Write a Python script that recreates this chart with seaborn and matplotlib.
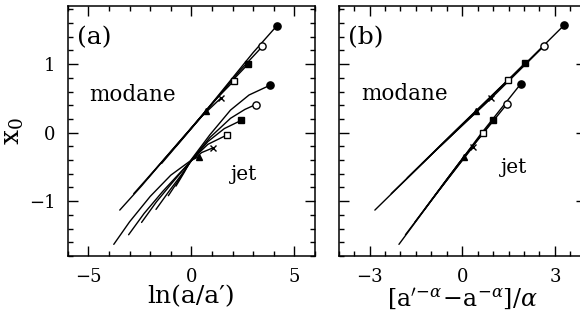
import numpy as np
import pandas as pd
import matplotlib
matplotlib.use("Agg")
import matplotlib.pyplot as plt
from matplotlib.ticker import MultipleLocator
import seaborn as sns

# --- data -----------------------------------------------------------

marks = ["tri", "cross", "osq", "fsq", "ocirc", "fcirc"]

# panel (a): x0 vs ln(a/a'), one curve per a', marker at the curve end
mod_a_x = [[-3.48, -2.4, -1.3, -0.2, 0.72],
           [-2.8, -1.8, -0.7, 0.4, 1.45],
           [-2.1, -1.0, 0.0, 1.1, 2.08],
           [-1.45, -0.4, 0.7, 1.8, 2.75],
           [-0.75, 0.3, 1.3, 2.4, 3.45],
           [-0.05, 1.0, 2.0, 3.0, 4.15]]
mod_a_y = [[-1.13, -0.77, -0.38, 0.00, 0.31],
           [-0.89, -0.55, -0.17, 0.21, 0.51],
           [-0.66, -0.28, 0.07, 0.46, 0.76],
           [-0.45, -0.08, 0.31, 0.70, 1.00],
           [-0.20, 0.17, 0.53, 0.92, 1.26],
           [0.05, 0.43, 0.80, 1.17, 1.56]]

jet_a_x = [[-3.77, -3.0, -2.0, -1.0, 0.0, 0.38],
           [-3.05, -2.3, -1.4, -0.6, 0.0, 0.5, 1.06],
           [-2.42, -1.7, -0.9, 0.0, 0.8, 1.75],
           [-1.72, -1.1, -0.5, 0.0, 0.8, 1.6, 2.42],
           [-1.12, -0.55, 0.0, 0.9, 1.9, 2.6, 3.12],
           [-0.75, -0.35, 0.0, 0.9, 1.9, 2.8, 3.8]]
jet_a_y = [[-1.63, -1.30, -0.93, -0.62, -0.40, -0.35],
           [-1.49, -1.18, -0.86, -0.60, -0.41, -0.29, -0.22],
           [-1.31, -1.01, -0.72, -0.40, -0.17, -0.03],
           [-1.12, -0.86, -0.62, -0.41, -0.13, 0.06, 0.18],
           [-0.92, -0.66, -0.40, -0.07, 0.21, 0.34, 0.41],
           [-0.78, -0.58, -0.39, -0.03, 0.33, 0.55, 0.69]]

# panel (b): x0 vs [a'^-alpha - a^-alpha]/alpha
mod_b_x = [[-2.83, -1.2, 0.44],
           [-2.30, -0.7, 0.94],
           [-1.78, -0.2, 1.48],
           [-1.30, 0.4, 2.02],
           [-0.72, 1.0, 2.66],
           [-0.15, 1.6, 3.3]]
mod_b_y = [[-1.13, -0.41, 0.31],
           [-0.89, -0.19, 0.51],
           [-0.66, 0.04, 0.77],
           [-0.45, 0.29, 1.01],
           [-0.20, 0.53, 1.27],
           [0.05, 0.81, 1.57]]

jet_b_x = [[-2.05, -1.0, 0.07],
           [-1.84, -0.75, 0.34],
           [-1.54, -0.45, 0.67],
           [-1.22, -0.1, 1.01],
           [-0.89, 0.3, 1.45],
           [-0.66, 0.6, 1.89]]
jet_b_y = [[-1.63, -0.99, -0.35],
           [-1.49, -0.84, -0.21],
           [-1.31, -0.65, 0.0],
           [-1.12, -0.44, 0.19],
           [-0.92, -0.22, 0.42],
           [-0.78, -0.02, 0.71]]

# marker style per curve: (marker, facecolor, size)
mstyle = {"tri": ("^", "black", 4.5), "cross": ("x", "black", 4.5),
          "osq": ("s", "white", 4.2), "fsq": ("s", "black", 4.2),
          "ocirc": ("o", "white", 5.2), "fcirc": ("o", "black", 5.2)}


def to_frame(xs, ys, name):
    rows = []
    for m, cx, cy in zip(marks, xs, ys):
        for x, y in zip(cx, cy):
            rows.append({"curve": f"{name}-{m}", "mark": m, "x": x, "y": y})
    return pd.DataFrame(rows)


# --- style ----------------------------------------------------------
sns.set_style("ticks")
plt.rcParams["font.family"] = ["DejaVu Serif"]
plt.rcParams["mathtext.fontset"] = "dejavuserif"
plt.rcParams["axes.linewidth"] = 1.1
for k in ["text.color", "axes.labelcolor", "xtick.color", "ytick.color",
          "axes.edgecolor"]:
    plt.rcParams[k] = "black"

fig = plt.figure(figsize=(5.8, 3.21), dpi=100)
ax_a = fig.add_axes([0.117, 0.2025, 0.426, 0.779])
ax_b = fig.add_axes([0.584, 0.2025, 0.426, 0.779])

panels = [(ax_a, to_frame(mod_a_x, mod_a_y, "mod"), to_frame(jet_a_x, jet_a_y, "jet")),
          (ax_b, to_frame(mod_b_x, mod_b_y, "mod"), to_frame(jet_b_x, jet_b_y, "jet"))]

for ax, dmod, djet in panels:
    df = pd.concat([dmod, djet], ignore_index=True)
    sns.lineplot(data=df, x="x", y="y", units="curve", estimator=None,
                 sort=False, color="black", lw=1.0, ax=ax, legend=False)
    # marker at the upper end of each curve
    ends = df.groupby("curve", sort=False).tail(1)
    for _, r in ends.iterrows():
        mk, fc, ms = mstyle[r["mark"]]
        ax.plot(r["x"], r["y"], marker=mk, mfc=fc, mec="black", ms=ms,
                mew=1.0, ls="none", zorder=5)
    ax.set_ylim(-1.8, 1.85)
    ax.yaxis.set_major_locator(MultipleLocator(1))
    ax.yaxis.set_minor_locator(MultipleLocator(0.2))
    ax.tick_params(which="both", direction="in", top=True, right=True,
                   labelsize=13, width=1.0)
    ax.tick_params(which="major", length=7, pad=9)
    ax.tick_params(which="minor", length=3.5)
    ax.set_xlabel("")
    ax.set_ylabel("")

ax_a.set_xlim(-6, 6)
ax_a.xaxis.set_major_locator(MultipleLocator(5))
ax_a.xaxis.set_minor_locator(MultipleLocator(1))
ax_a.set_xlabel("ln(a/a\u2032)", fontsize=18, labelpad=-1)
ax_a.set_ylabel("$\\mathregular{x_0}$", fontsize=19, labelpad=2)
ax_a.text(-5.55, 1.39, "(a)", fontsize=18, va="center")
ax_a.text(-4.95, 0.55, "modane", fontsize=15.5, va="center")
ax_a.text(1.9, -0.61, "jet", fontsize=14.5, va="center")

ax_b.set_xlim(-4, 4)
ax_b.xaxis.set_major_locator(MultipleLocator(3))
ax_b.xaxis.set_minor_locator(MultipleLocator(0.5))
ax_b.tick_params(labelleft=False)
ax_b.set_xlabel("$[\\mathregular{a}'^{-\\alpha}\\!-\\!\\mathregular{a}^{-\\alpha}]/\\alpha$",
                fontsize=17, labelpad=0)
ax_b.text(-3.7, 1.39, "(b)", fontsize=18, va="center")
ax_b.text(-3.26, 0.57, "modane", fontsize=15.5, va="center")
ax_b.text(1.26, -0.51, "jet", fontsize=14.5, va="center")

fig.savefig("out.png", dpi=100)
